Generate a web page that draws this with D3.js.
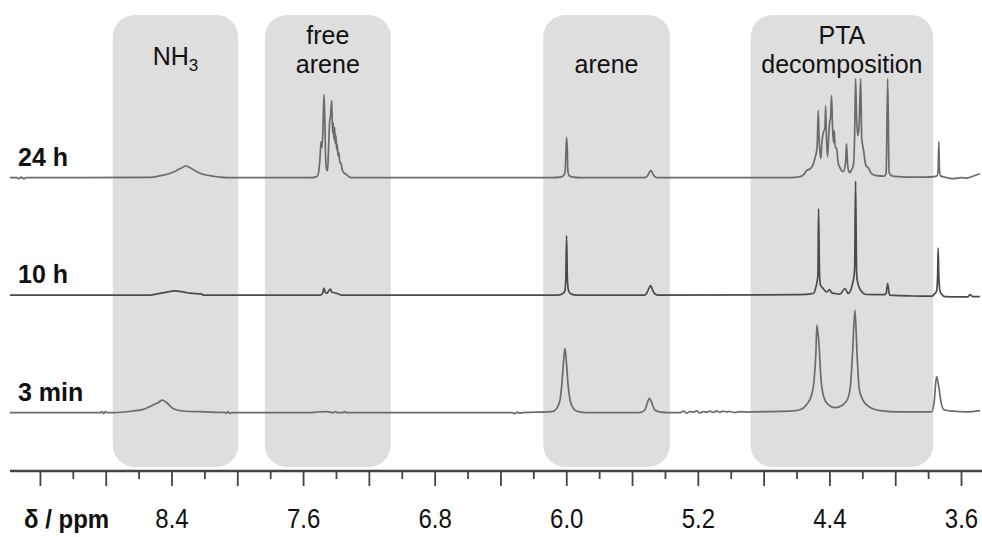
<!DOCTYPE html>
<html>
<head>
<meta charset="utf-8">
<script src="https://cdn.jsdelivr.net/npm/d3@7"></script>
<style>
  html, body { margin: 0; padding: 0; background: #fff; }
  svg { display: block; font-family: "Liberation Sans", Arial, sans-serif; }
</style>
</head>
<body>
<svg id="chart" width="982" height="537"></svg>
<script>
// 1H NMR spectra recorded at three reaction times (chemical shift in ppm, intensity in a.u.)
const times = ["24 h", "10 h", "3 min"];

const spectrum24h = [
  [9.385, 0], [9.342, 0], [9.330, -1], [9.318, 0.5], [9.300, -1], [9.288, 0], [9.263, 0],
  [8.534, 0.3], [8.470, 2], [8.420, 4], [8.380, 6.5], [8.345, 9.5], [8.315, 11.7], [8.290, 10],
  [8.260, 7], [8.230, 4.5], [8.200, 3], [8.150, 1.5], [8.108, 0.5], [8.066, 0],
  [7.560, 0], [7.525, 0.5], [7.512, 3], [7.500, 20], [7.494, 36], [7.488, 30], [7.482, 50],
  [7.476, 83], [7.471, 60], [7.466, 20], [7.460, 8], [7.454, 7], [7.448, 30], [7.442, 55],
  [7.436, 62], [7.429, 77], [7.424, 45], [7.420, 55], [7.415, 38], [7.411, 50], [7.407, 34],
  [7.403, 42], [7.399, 28], [7.395, 33], [7.391, 22], [7.386, 25], [7.380, 16], [7.372, 14],
  [7.365, 8], [7.355, 5], [7.338, 3], [7.320, 0.5], [7.300, 0],
  [6.092, 0], [6.040, 0.5], [6.020, 2], [6.010, 6], [6.005, 25], [6.001, 40.4], [5.997, 30],
  [5.993, 6], [5.985, 2], [5.960, 0.5], [5.920, 0],
  [5.530, 0], [5.508, 2], [5.496, 6], [5.488, 7], [5.480, 5], [5.468, 1.5], [5.450, 0],
  [4.643, 0], [4.582, 1], [4.560, 3], [4.542, 7], [4.520, 9], [4.505, 12], [4.490, 20],
  [4.478, 30], [4.471, 67], [4.466, 40], [4.460, 25], [4.455, 19], [4.449, 35], [4.440, 45],
  [4.430, 50], [4.426, 72], [4.421, 40], [4.414, 21], [4.408, 40], [4.402, 55], [4.396, 60],
  [4.390, 82], [4.384, 50], [4.378, 35], [4.374, 47], [4.368, 30], [4.360, 30], [4.350, 15],
  [4.339, 10], [4.319, 6], [4.305, 15], [4.299, 34], [4.293, 15], [4.285, 6], [4.279, 5],
  [4.268, 8], [4.258, 12], [4.250, 40], [4.244, 99], [4.238, 60], [4.230, 42], [4.222, 55],
  [4.213, 99], [4.207, 40], [4.197, 29], [4.185, 15], [4.181, 12], [4.167, 10], [4.147, 4],
  [4.116, 2], [4.070, 1.5], [4.058, 5], [4.049, 99], [4.040, 5], [4.020, 1.5], [3.974, 1],
  [3.900, 0.5], [3.812, 0.5], [3.770, 1], [3.748, 2], [3.742, 8], [3.738, 36], [3.734, 8],
  [3.728, 2], [3.700, 0.5], [3.650, -1], [3.600, 0], [3.569, -0.5], [3.540, 1], [3.488, 4]
];

const spectrum10h = [
  [9.385, 0], [8.534, 0], [8.490, 1.3], [8.432, 3], [8.382, 4.3], [8.333, 3.3], [8.291, 2],
  [8.220, 1.3], [8.212, 0],
  [7.500, 0], [7.484, 2], [7.476, 7], [7.468, 3], [7.457, 2], [7.449, 4], [7.437, 6],
  [7.428, 3], [7.410, 2.5], [7.385, 1], [7.370, 0],
  [6.060, 0], [6.025, 1.5], [6.012, 4], [6.006, 15], [6.001, 59.3], [5.996, 15], [5.988, 4],
  [5.976, 1.5], [5.940, 0],
  [5.530, 0], [5.514, 2], [5.500, 7], [5.490, 9.7], [5.480, 6], [5.466, 1.5], [5.440, 0],
  [4.582, 0.5], [4.501, 1.7], [4.485, 8.3], [4.473, 20], [4.469, 86.7], [4.463, 20],
  [4.457, 10], [4.441, 6.7], [4.420, 3.3], [4.402, 5.7], [4.390, 2.5], [4.370, 1.7],
  [4.339, 1], [4.309, 6.7], [4.289, 1.7], [4.262, 11.7], [4.250, 25], [4.244, 114],
  [4.238, 25], [4.234, 15], [4.213, 5], [4.177, 0.7], [4.070, 0.5], [4.058, 2], [4.049, 11.7],
  [4.040, 2], [4.035, 0], [3.900, -0.8], [3.782, -1], [3.766, 1], [3.752, 4], [3.745, 20],
  [3.742, 47], [3.738, 20], [3.731, 4], [3.721, 1], [3.700, -1.5], [3.600, -1.7],
  [3.560, -1.7], [3.549, 0.7], [3.530, -1.5], [3.488, -1.5]
];

const spectrum3min = [
  [9.385, 0], [8.838, 0], [8.825, 1], [8.815, -1], [8.805, 1], [8.795, 0], [8.759, 0],
  [8.637, 1.7], [8.576, 3.3], [8.515, 7.7], [8.480, 10.5], [8.459, 12.7], [8.432, 10],
  [8.394, 4.3], [8.333, 1.7], [8.230, 1], [8.108, 0.3], [8.080, 0.3], [8.070, -0.8],
  [8.060, 1], [8.050, -0.5], [8.030, 0],
  [7.560, 0], [7.520, 0.7], [7.460, 1], [7.420, 0], [7.405, 1.2], [7.395, 0], [7.360, 0],
  [7.350, 1], [7.340, 0],
  [6.330, 0], [6.315, -1], [6.300, 0.5], [6.285, -0.5], [6.270, 0],
  [6.092, 1], [6.061, 4.3], [6.041, 12.7], [6.031, 26], [6.020, 50], [6.011, 64.4],
  [6.002, 50], [5.991, 26], [5.980, 12.7], [5.960, 4.3], [5.930, 1], [5.880, 0],
  [5.560, 0], [5.525, 2.7], [5.514, 7.7], [5.498, 14.4], [5.478, 7.7], [5.464, 2.7],
  [5.430, 0.5], [5.380, 0],
  [5.312, 0], [5.290, 1.5], [5.270, -0.5], [5.251, 1.2], [5.230, 0.5], [5.210, 1.8],
  [5.190, -0.3], [5.170, 1.2], [5.150, 0.5], [5.130, 1.6], [5.110, 0.2], [5.090, 1.8],
  [5.069, 0.3], [5.050, 1.5], [5.030, 0.8], [5.008, 1.2], [4.980, 0.2], [4.947, 1],
  [4.900, 0.5], [4.886, 0.8],
  [4.643, 1.5], [4.582, 3], [4.542, 8], [4.511, 18], [4.497, 31], [4.485, 61], [4.479, 87.5],
  [4.465, 65], [4.455, 35], [4.436, 15], [4.410, 8], [4.370, 5], [4.319, 8], [4.289, 15],
  [4.273, 31], [4.262, 61], [4.248, 102.5], [4.234, 55], [4.222, 24], [4.201, 13],
  [4.167, 6.5], [4.096, 2], [3.974, 0.8], [3.782, 0.8], [3.766, 11], [3.752, 36], [3.738, 26],
  [3.725, 11], [3.707, 3], [3.650, 1.5], [3.569, 0.8], [3.488, 2]
];

// Shaded assignment regions: [high ppm, low ppm]
const regionNames = ["NH3", "free arene", "arene", "PTA decomposition"];
const regionLimits = [[8.760, 7.997], [7.835, 7.070], [6.143, 5.373], [4.882, 3.772]];

// Axis ticks and labels
const tickValues = d3.range(0, 29).map(i => +(9.2 - i * 0.2).toFixed(1));
const labelValues = [8.4, 7.6, 6.8, 6.0, 5.2, 4.4, 3.6];

const svg = d3.select("#chart");

const x = d3.scaleLinear().domain([8.4, 3.6]).range([172, 961.5]);
const row = d3.scalePoint().domain(times).range([177.7, 412.7]);
const amp = d3.scaleLinear().domain([0, 100]).range([0, 100]);

const series = [
  { name: "24 h", data: spectrum24h, color: "#6b6b6b" },
  { name: "10 h", data: spectrum10h, color: "#4a4a4a" },
  { name: "3 min", data: spectrum3min, color: "#6b6b6b" }
];

// Shaded regions
const boxTop = 15, boxBottom = 467;
svg.append("g").selectAll("rect")
  .data(regionLimits)
  .join("rect")
  .attr("x", d => x(d[0]))
  .attr("width", d => x(d[1]) - x(d[0]))
  .attr("y", boxTop)
  .attr("height", boxBottom - boxTop)
  .attr("rx", 22).attr("ry", 22)
  .attr("fill", "#dedede");

// Region titles
const titleSize = 25;
const titles = svg.append("g")
  .attr("font-size", titleSize)
  .attr("fill", "#111")
  .attr("text-anchor", "middle");

const center = i => (x(regionLimits[i][0]) + x(regionLimits[i][1])) / 2;

const nh = titles.append("text").attr("x", center(0)).attr("y", 65);
nh.append("tspan").text("NH");
nh.append("tspan").attr("font-size", 17).attr("dy", 6).text("3");

[[1, ["free", "arene"]], [3, ["PTA", "decomposition"]]].forEach(([i, lines]) => {
  lines.forEach((t, k) => {
    titles.append("text").attr("x", center(i)).attr("y", 44 + k * 29).text(t);
  });
});
titles.append("text").attr("x", center(2)).attr("y", 73).text("arene");

// Spectra
const line = d3.line()
  .x(d => x(d[0]))
  .curve(d3.curveMonotoneX);

svg.append("g").selectAll("path")
  .data(series)
  .join("path")
  .attr("fill", "none")
  .attr("stroke", d => d.color)
  .attr("stroke-width", 1.7)
  .attr("stroke-linejoin", "round")
  .attr("d", s => line.y(d => row(s.name) - amp(d[1]))(s.data));

// Row labels
svg.append("g").selectAll("text")
  .data(times)
  .join("text")
  .attr("x", 18)
  .attr("y", d => row(d) - 12)
  .attr("font-size", 25)
  .attr("font-weight", "bold")
  .attr("fill", "#111")
  .text(d => d);

// Chemical shift axis
const axisY = 471;
const axis = svg.append("g").attr("transform", `translate(0,${axisY})`);
axis.append("line")
  .attr("x1", 10).attr("x2", 982)
  .attr("stroke", "#444").attr("stroke-width", 2.6);

const isMajor = v => Math.abs(((9.2 - v) / 0.4) - Math.round((9.2 - v) / 0.4)) < 1e-6;
axis.selectAll("line.tick")
  .data(tickValues)
  .join("line")
  .attr("class", "tick")
  .attr("x1", d => x(d)).attr("x2", d => x(d))
  .attr("y1", 0)
  .attr("y2", d => isMajor(d) ? 15 : 8)
  .attr("stroke", "#444").attr("stroke-width", 1.8);

// Tick labels use a slightly condensed, taller face
axis.selectAll("text.lbl")
  .data(labelValues)
  .join("text")
  .attr("class", "lbl")
  .attr("transform", d => `translate(${x(d)},57) scale(1,1.15)`)
  .attr("text-anchor", "middle")
  .attr("font-size", 24)
  .attr("fill", "#111")
  .text(d => d.toFixed(1));

axis.append("text")
  .attr("transform", "translate(24,57) scale(1,1.1)")
  .attr("font-size", 24)
  .attr("font-weight", "bold")
  .attr("fill", "#111")
  .text("δ / ppm");
</script>
</body>
</html>
